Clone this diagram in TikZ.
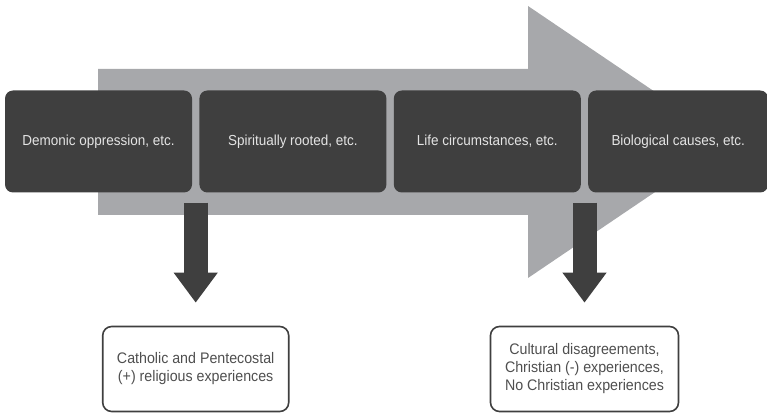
\documentclass[tikz,border=0pt]{standalone}
\usepackage{fontspec}
\setmainfont{Liberation Sans}[FakeStretch=0.93]
\usetikzlibrary{arrows.meta, calc, positioning}
\definecolor{dunkel}{HTML}{3F3F3F}
\definecolor{balken}{HTML}{A7A8AB}
\definecolor{hell}{HTML}{E4E4E4}
\definecolor{schrift}{HTML}{4F4F4F}

\begin{document}
\begin{tikzpicture}[
    x=1pt, y=1pt,
    every node/.style={font=\fontsize{14.5}{18}\selectfont},
    ursache/.style={fill=dunkel, text=hell, rounded corners=8pt,
      minimum width=187pt, minimum height=102pt, inner sep=0pt},
    erfahrung/.style={draw=dunkel, line width=1.6pt, fill=white, text=schrift,
      rounded corners=9pt, minimum width=186pt, minimum height=85pt,
      align=center, inner sep=0pt, font=\fontsize{15.3}{18}\selectfont},
    pfeil/.style={line width=24pt, dunkel,
      -{Triangle[width=42pt, length=30pt]}, shorten >=23pt},
  ]
  \useasboundingbox (0,0) rectangle (767,412);

  % grosser Pfeil im Hintergrund
  \fill[balken] (98,343) -- (528,343) -- (528,406) -- (729,270)
    -- (528,134) -- (528,197) -- (98,197) -- cycle;

  % Ursachen
  \node[ursache] (daemon) at (98.5,270.5) {Demonic oppression, etc.};
  \node[ursache, right=7pt of daemon] (geist) {Spiritually rooted, etc.};
  \node[ursache, right=7pt of geist] (leben) {Life circumstances, etc.};
  \node[ursache, right=7pt of leben, minimum width=180pt] (bio) {Biological causes, etc.};

  \coordinate (a1) at ($(daemon.south east)!0.5!(geist.south west)+(0,-10)$);
  \coordinate (a2) at ($(leben.south east)!0.5!(bio.south west)+(0,-10)$);

  % Erfahrungen
  \node[erfahrung, below=123pt of a1] (positiv)
    {Catholic and Pentecostal\\(+) religious experiences};
  \node[erfahrung, below=123pt of a2, minimum width=188pt] (negativ)
    {Cultural disagreements,\\Christian (-) experiences,\\No Christian experiences};

  \draw[pfeil] (a1) -- (positiv);
  \draw[pfeil] (a2) -- (negativ);
\end{tikzpicture}
\end{document}
